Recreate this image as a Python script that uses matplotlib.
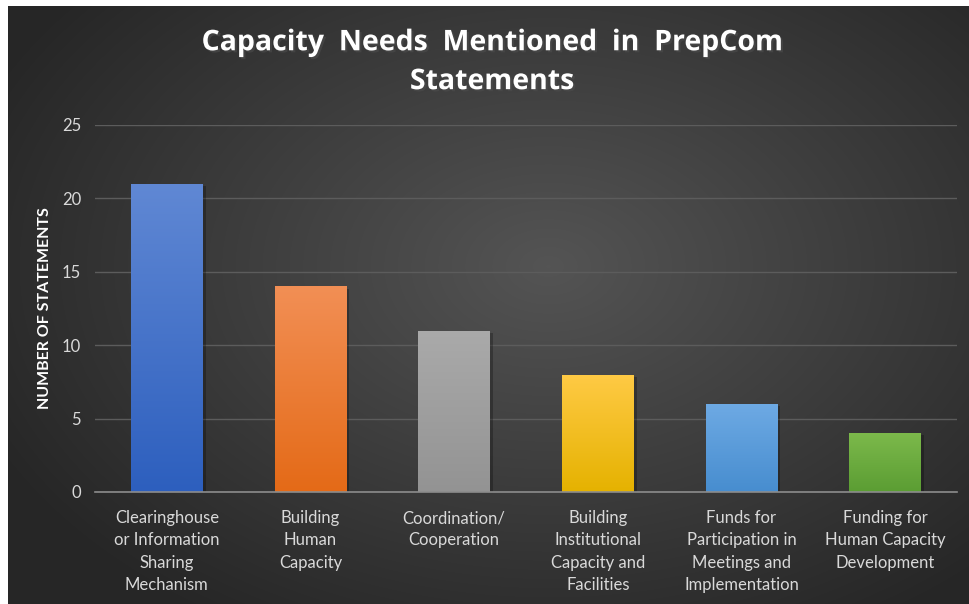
import numpy as np
import matplotlib
matplotlib.use("Agg")
import matplotlib.pyplot as plt
import matplotlib.patheffects as pe
from matplotlib.colors import LinearSegmentedColormap

# capacity needs counted across PrepCom statements
categories = [
    "Clearinghouse\nor Information\nSharing\nMechanism",
    "Building\nHuman\nCapacity",
    "Coordination/\nCooperation",
    "Building\nInstitutional\nCapacity and\nFacilities",
    "Funds for\nParticipation in\nMeetings and\nImplementation",
    "Funding for\nHuman Capacity\nDevelopment",
]
counts = [21, 14, 11, 8, 6, 4]
y_ticks = [0, 5, 10, 15, 20, 25]

# (top, bottom) colours of each bar's vertical gradient
bar_grads = [
    ("#6088d4", "#2d5fbe"),
    ("#f28f55", "#e46a17"),
    ("#aaaaaa", "#939393"),
    ("#ffca45", "#e5b200"),
    ("#6eaae4", "#478dcf"),
    ("#7cb94b", "#5b9d33"),
]

plt.rcParams["font.family"] = ["Lato", "DejaVu Sans"]

fig = plt.figure(figsize=(9.69, 6.04), dpi=100, facecolor="white")

# dark radial background panel
bg = fig.add_axes([8 / 969, 0, 1 - 8 / 969, 1 - 6 / 604])
bg.set_axis_off()
h, w = 598, 961
yy, xx = np.mgrid[0:h, 0:w]
cx, cy = 540, 260
r = np.sqrt(((xx - cx) / 620.0) ** 2 + ((yy - cy) / 420.0) ** 2)
r = np.clip(r, 0, 1)
shade = 0.33 - 0.18 * r
bg.imshow(np.dstack([shade, shade, shade]), aspect="auto",
          extent=[0, 1, 0, 1], interpolation="bilinear")
bg.set_xlim(0, 1)
bg.set_ylim(0, 1)

ax = fig.add_axes([95 / 969, (604 - 492) / 604, (957 - 95) / 969, (492 - 125) / 604])
ax.set_facecolor("none")

x = np.arange(len(categories))
bars = ax.bar(x, counts, width=0.5, color="none", zorder=3)

grad = np.linspace(0, 1, 256).reshape(-1, 1)
for bar, (top, bottom) in zip(bars, bar_grads):
    bx, by = bar.get_x(), bar.get_y()
    bw, bh = bar.get_width(), bar.get_height()
    # soft drop shadow
    ax.add_patch(plt.Rectangle((bx + 0.02, by), bw, bh - 0.15, color="black",
                               alpha=0.25, zorder=2, linewidth=0))
    cmap = LinearSegmentedColormap.from_list("g", [bottom, top])
    im = ax.imshow(grad, cmap=cmap, origin="lower", aspect="auto",
                   extent=[bx, bx + bw, by, by + bh], zorder=3)
    im.set_clip_path(bar)

ax.set_xlim(-0.5, len(categories) - 0.5)
ax.set_ylim(0, 25)
ax.set_yticks(y_ticks)
ax.set_xticks(x)
ax.set_xticklabels(categories, fontsize=12, color="#d9d9d9", linespacing=1.48, va="top")
ax.tick_params(axis="y", labelsize=12, colors="#d9d9d9", length=0, pad=10)
ax.tick_params(axis="x", length=0, pad=13)
ax.grid(axis="y", color="#5c5c5c", linewidth=1, zorder=0)
ax.set_axisbelow(True)
for side in ["top", "right", "left"]:
    ax.spines[side].set_visible(False)
ax.spines["bottom"].set_color("#8c8c8c")
ax.spines["bottom"].set_linewidth(1.2)
ax.spines["bottom"].set_zorder(4)

ax.set_ylabel("NUMBER OF STATEMENTS", fontsize=11.5, fontweight="bold",
              color="white", labelpad=7)

fig.text(0.508, 0.897, "Capacity  Needs  Mentioned  in  PrepCom\nStatements",
         ha="center", va="center", fontsize=20.5, fontweight="bold", color="white",
         family=["Open Sans", "DejaVu Sans"], linespacing=1.45,
         path_effects=[pe.withSimplePatchShadow(offset=(1.5, -1.5), alpha=0.6)])

fig.savefig("out.png", dpi=100, facecolor=fig.get_facecolor())
